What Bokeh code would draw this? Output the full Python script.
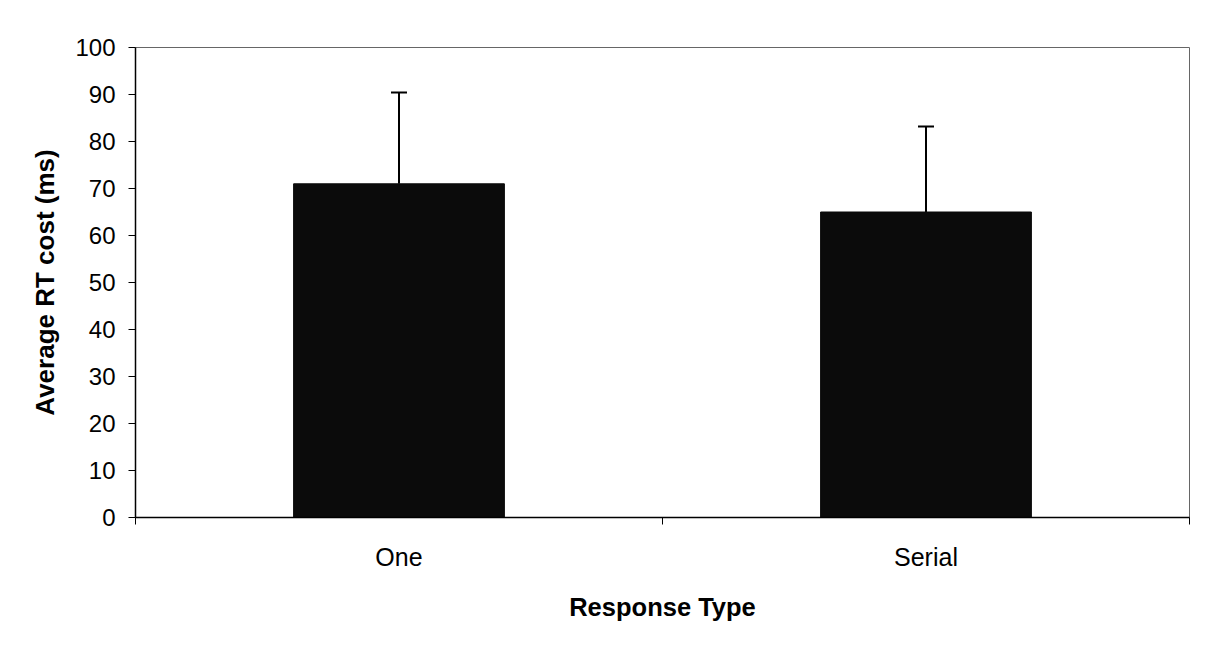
from bokeh.plotting import figure
from bokeh.models import ColumnDataSource, Range1d, FixedTicker, Whisker, TeeHead
from bokeh.embed import file_html
from bokeh.resources import INLINE

categories = ["One", "Serial"]
means = [71.0, 65.0]
errors = [19.4, 18.2]
y_ticks = [0, 10, 20, 30, 40, 50, 60, 70, 80, 90, 100]

xpos = [i + 0.5 for i in range(len(categories))]
src = ColumnDataSource(dict(
    x=xpos, top=means,
    upper=[m + e for m, e in zip(means, errors)],
    cat=categories,
))

p = figure(width=1191, height=642, output_backend="svg", toolbar_location=None,
           x_range=Range1d(0, len(categories)), y_range=Range1d(0, 100),
           min_border_left=135, min_border_right=2, min_border_top=47, min_border_bottom=125)

p.vbar(x="x", top="top", bottom=0, width=0.4, source=src,
       fill_color="#0b0b0b", line_color="#0b0b0b")

wh = Whisker(base="x", lower="top", upper="upper", source=src,
             line_color="black", line_width=2,
             upper_head=TeeHead(size=16, line_color="black", line_width=2),
             lower_head=None)
p.add_layout(wh)

p.xgrid.visible = False
p.ygrid.visible = False
p.outline_line_color = "#666666"
p.outline_line_width = 1
p.background_fill_color = "white"
p.border_fill_color = "white"

font = "Liberation Sans"

xa = p.xaxis[0]
xa.ticker = FixedTicker(ticks=xpos, minor_ticks=list(range(len(categories) + 1)))
xa.major_label_overrides = {x: c for x, c in zip(xpos, categories)}
xa.major_tick_line_color = None
xa.major_tick_out = 7
xa.major_tick_in = 0
xa.minor_tick_out = 7
xa.minor_tick_in = 0
xa.minor_tick_line_color = "black"
xa.minor_tick_line_width = 1
xa.axis_line_color = "black"
xa.axis_line_width = 1.5
xa.major_label_text_font = font
xa.major_label_text_font_size = "25px"
xa.major_label_text_color = "black"
xa.major_label_standoff = 18
xa.axis_label = "Response Type"
xa.axis_label_text_font = font
xa.axis_label_text_font_style = "bold"
xa.axis_label_text_font_size = "25.5px"
xa.axis_label_text_color = "black"
xa.axis_label_standoff = 19

ya = p.yaxis[0]
ya.ticker = FixedTicker(ticks=y_ticks, minor_ticks=[])
ya.major_tick_out = 7
ya.major_tick_in = 0
ya.major_tick_line_color = "black"
ya.axis_line_color = "black"
ya.axis_line_width = 1.5
ya.major_label_text_font = font
ya.major_label_text_font_size = "24px"
ya.major_label_text_color = "black"
ya.major_label_standoff = 13
ya.axis_label = "Average RT cost (ms)"
ya.axis_label_text_font = font
ya.axis_label_text_font_style = "bold"
ya.axis_label_text_font_size = "26px"
ya.axis_label_text_color = "black"
ya.axis_label_standoff = 12

open("out.html", "w").write(file_html(p, INLINE))
